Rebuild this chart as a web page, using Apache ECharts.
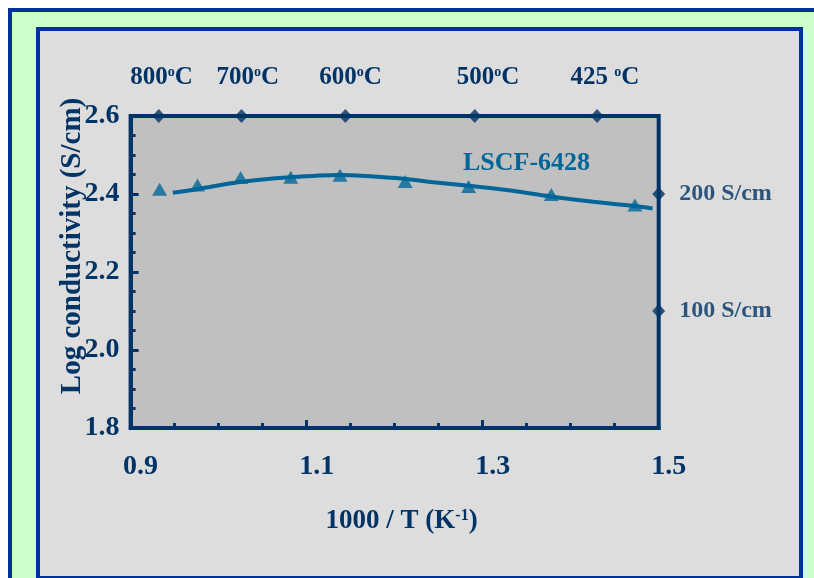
<!DOCTYPE html>
<html>
<head>
<meta charset="utf-8">
<script src="https://cdn.jsdelivr.net/npm/echarts@6/dist/echarts.min.js"></script>
<style>
html,body{margin:0;padding:0;background:#ffffff;overflow:hidden;}
#chart{width:814px;height:578px;}
</style>
</head>
<body>
<div id="chart"></div>
<script>
// ---- data ----
var measuredX = [0.933, 0.976, 1.025, 1.082, 1.138, 1.212, 1.284, 1.378, 1.473];
var measuredY = [2.412, 2.423, 2.442, 2.443, 2.448, 2.432, 2.419, 2.399, 2.372];
var fitX = [0.948, 0.977, 1.024, 1.081, 1.138, 1.168, 1.210, 1.244, 1.284, 1.327, 1.379, 1.426, 1.473, 1.493];
var fitY = [2.403, 2.413, 2.431, 2.443, 2.449, 2.446, 2.439, 2.430, 2.421, 2.410, 2.393, 2.380, 2.369, 2.363];
var tempX = [0.932, 1.026, 1.144, 1.291, 1.430];
var tempLabelX = [0.935, 1.033, 1.150, 1.306, 1.439];
var tempLabels = ['800{sup|o}C', '700{sup|o}C', '600{sup|o}C', '500{sup|o}C', '425 {sup|o}C'];
var condY = [2.4, 2.1];
var condLabels = ['200 S/cm', '100 S/cm'];
var seriesName = 'LSCF-6428';

var NAVY = '#003366';
var LINE = '#006699';
var FONT = "'Liberation Serif','Times New Roman',serif";

var chart = echarts.init(document.getElementById('chart'), null, {renderer: 'canvas'});

function zip(xs, ys) { return xs.map(function (x, i) { return [x, ys[i]]; }); }

var option = {
  backgroundColor: '#ffffff',
  animation: false,
  graphic: [
    {type: 'rect', z: -10, silent: true, shape: {x: 8, y: 8, width: 820, height: 580},
     style: {fill: '#ccffcc'}},
    {type: 'polyline', z: -10, silent: true, shape: {points: [[10, 600], [10, 10], [830, 10]]},
     style: {stroke: '#003399', lineWidth: 4, fill: null}},
    {type: 'rect', z: -9, silent: true, shape: {x: 38, y: 29, width: 763, height: 549},
     style: {fill: '#dddddd', stroke: '#003399', lineWidth: 4}},
    {type: 'text', z: 10, left: 463, top: 150,
     style: {text: seriesName, fill: LINE, font: 'bold 26px ' + FONT}}
  ],
  grid: {left: 130.6, top: 116, right: 155.3, bottom: 150, show: true,
         backgroundColor: '#c0c0c0', borderColor: NAVY, borderWidth: 4},
  xAxis: {
    type: 'value', min: 0.9, max: 1.5, interval: 0.2,
    axisLine: {show: true, onZero: false, lineStyle: {color: NAVY, width: 4}},
    axisTick: {show: true, inside: true, length: 8, lineStyle: {color: NAVY, width: 3}},
    minorTick: {show: true, splitNumber: 4, length: 5, lineStyle: {color: NAVY, width: 3}},
    splitLine: {show: false},
    axisLabel: {color: NAVY, fontFamily: FONT, fontWeight: 'bold', fontSize: 28, margin: 25,
                padding: [0, 0, 0, 20],
                formatter: function (v) { return v.toFixed(1); }},
    name: '1000 / T (K{sup|-1})', nameLocation: 'middle', nameGap: 80, nameMoveOverlap: false,
    nameTextStyle: {color: NAVY, fontFamily: FONT, fontWeight: 'bold', fontSize: 27,
                    padding: [0, 0, 0, 14],
                    rich: {sup: {fontSize: 16, fontWeight: 'bold', fontFamily: FONT, color: NAVY,
                                 verticalAlign: 'top', padding: [0, 0, 10, 0]}}}
  },
  yAxis: {
    type: 'value', min: 1.8, max: 2.6, interval: 0.2,
    axisLine: {show: true, onZero: false, lineStyle: {color: NAVY, width: 4}},
    axisTick: {show: true, inside: true, length: 8, lineStyle: {color: NAVY, width: 3}},
    minorTick: {show: true, splitNumber: 4, length: 5, lineStyle: {color: NAVY, width: 3}},
    splitLine: {show: false},
    axisLabel: {color: NAVY, fontFamily: FONT, fontWeight: 'bold', fontSize: 28, margin: 11,
                formatter: function (v) { return v.toFixed(1); }},
    name: 'Log conductivity (S/cm)', nameLocation: 'middle', nameGap: 44, nameRotate: 90,
    nameMoveOverlap: false,
    nameTextStyle: {color: NAVY, fontFamily: FONT, fontWeight: 'bold', fontSize: 29,
                    padding: [0, 0, 0, 52]}
  },
  series: [
    {type: 'line', name: seriesName + ' fit', data: zip(fitX, fitY), smooth: 0.3,
     showSymbol: false, symbol: 'none', lineStyle: {color: LINE, width: 4}, z: 3},
    {type: 'scatter', name: seriesName, data: zip(measuredX, measuredY), symbol: 'triangle',
     symbolSize: [15, 13], itemStyle: {color: LINE}, z: 4},
    {type: 'scatter', name: 'temps', data: tempX.map(function (x) { return [x, 2.6]; }),
     symbol: 'diamond', symbolSize: [13, 14], itemStyle: {color: NAVY}, clip: false, z: 5},
    {type: 'scatter', name: 'tempLabels', symbol: 'circle', symbolSize: 2, clip: false, z: 5,
     itemStyle: {color: 'rgba(0,0,0,0)'},
     data: tempLabelX.map(function (x, i) { return {value: [x, 2.6], label: {formatter: tempLabels[i]}}; }),
     label: {show: true, position: 'top', distance: 25, color: NAVY, fontFamily: FONT,
             fontWeight: 'bold', fontSize: 25, opacity: 1,
             rich: {sup: {fontSize: 14, fontWeight: 'bold', fontFamily: FONT, color: NAVY,
                          verticalAlign: 'top', padding: [0, 0, 10, 0]}}}},
    {type: 'scatter', name: 'cond', clip: false, z: 5,
     data: condY.map(function (y, i) { return {value: [1.5, y], label: {formatter: condLabels[i]}}; }),
     symbol: 'diamond', symbolSize: [13, 14], itemStyle: {color: NAVY},
     label: {show: true, position: 'right', distance: 14, color: NAVY, fontFamily: FONT,
             fontWeight: 'bold', fontSize: 24}}
  ]
};
chart.setOption(option);
</script>
</body>
</html>
